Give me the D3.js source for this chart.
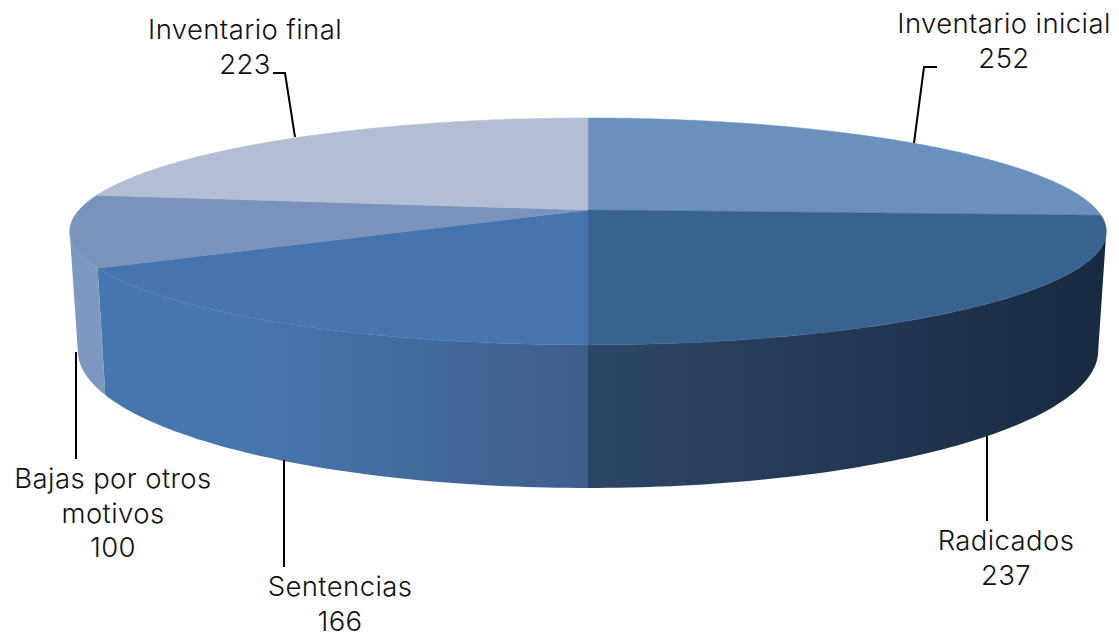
<!DOCTYPE html>
<html>
<head>
<meta charset="utf-8">
<script src="https://cdn.jsdelivr.net/npm/d3@7"></script>
<style>
  html, body { margin: 0; padding: 0; background: #fff; }
  text { font-family: Inter, sans-serif; font-size: 27.5px; font-weight: 300; fill: #111; letter-spacing: 0.4px; text-anchor: middle; }
</style>
</head>
<body>
<svg id="chart" width="1119" height="634"></svg>
<script>
var categories = ["Inventario inicial", "Radicados", "Sentencias", "Bajas por otros motivos", "Inventario final"];
var values = [252, 237, 166, 100, 223];
var topColors = ["#6a90bd", "#3a628e", "#4675ae", "#7a93bd", "#b3bdd3"];
var wallColorsFrom = ["#5a7ba3", "#2e4668", "#4676ae", "#7f98c0", "#98a3b5"];
var wallColorsTo = ["#5a7ba3", "#182a40", "#3e5e8b", "#7f98c0", "#98a3b5"];

var svg = d3.select("#chart");
var defs = svg.append("defs");

// perspective of the disc, near edge gets bigger
var k = 0.189;
var xTop = d3.scaleLinear().domain([-1, 1]).range([79, 1097]);
var yTop = d3.scaleLinear().domain([-1, 1]).range([100.6, 319.4]);
var xBottom = d3.scaleLinear().domain([-1, 1]).range([87, 1089]);
var yBottom = d3.scaleLinear().domain([-1, 1]).range([192.1, 457.1]);

function rim(xs, ys, a) {
  var w = 1 + k * Math.cos(a);
  return [xs(Math.sin(a) / w), ys(-Math.cos(a) / w)];
}
function angles(a0, a1) {
  var n = Math.max(2, Math.ceil((a1 - a0) * 60));
  return d3.range(n + 1).map(function(i) { return a0 + (a1 - a0) * i / n; });
}

var slices = d3.pie().sort(null).startAngle(0).endAngle(2 * Math.PI)(values);
var line = d3.line();

// only the near side of the wall is visible
var frontStart = Math.PI / 2 + Math.asin(k);
var frontEnd = 3 * Math.PI / 2 - Math.asin(k);

var g = svg.append("g");

slices.forEach(function(s, i) {
  var a0 = Math.max(s.startAngle, frontStart);
  var a1 = Math.min(s.endAngle, frontEnd);
  if (a1 <= a0) return;
  var grad = defs.append("linearGradient").attr("id", "wall" + i);
  grad.append("stop").attr("offset", 0).attr("stop-color", wallColorsFrom[i]);
  if (i == 2) grad.append("stop").attr("offset", 0.3).attr("stop-color", wallColorsFrom[i]);
  grad.append("stop").attr("offset", 1).attr("stop-color", wallColorsTo[i]);
  var as = angles(a0, a1);
  var pts = as.map(function(a) { return rim(xTop, yTop, a); })
    .concat(as.slice().reverse().map(function(a) { return rim(xBottom, yBottom, a); }));
  g.append("path").attr("d", line(pts) + "Z").attr("fill", "url(#wall" + i + ")");
});

slices.forEach(function(s, i) {
  var pts = [[xTop(0), yTop(0)]].concat(angles(s.startAngle, s.endAngle).map(function(a) {
    return rim(xTop, yTop, a);
  }));
  g.append("path").attr("d", line(pts) + "Z").attr("fill", topColors[i]).attr("stroke", topColors[i]).attr("stroke-width", 0.5);
});

// leader lines
var leaders = [
  [[937, 67], [924, 67], [914, 143]],
  [[987, 436], [987, 521]],
  [[284, 460], [284, 567]],
  [[76, 352], [76, 459]],
  [[273, 73], [285, 73], [295, 137]]
];
leaders.forEach(function(l) {
  svg.append("path").attr("d", line(l)).attr("fill", "none").attr("stroke", "#000").attr("stroke-width", 2);
});

// labels
var labelLines = [
  [categories[0]],
  [categories[1]],
  [categories[2]],
  ["Bajas por otros", "motivos"],
  [categories[4]]
];
var labelX = [1004, 1006, 340, 113, 245];
var labelY = [33, 550, 596, 488, 39];
var lineStep = 34.5;
labelLines.forEach(function(ls, i) {
  ls.concat([values[i]]).forEach(function(t, j) {
    svg.append("text").attr("x", labelX[i]).attr("y", labelY[i] + j * lineStep).text(t);
  });
});
</script>
</body>
</html>
